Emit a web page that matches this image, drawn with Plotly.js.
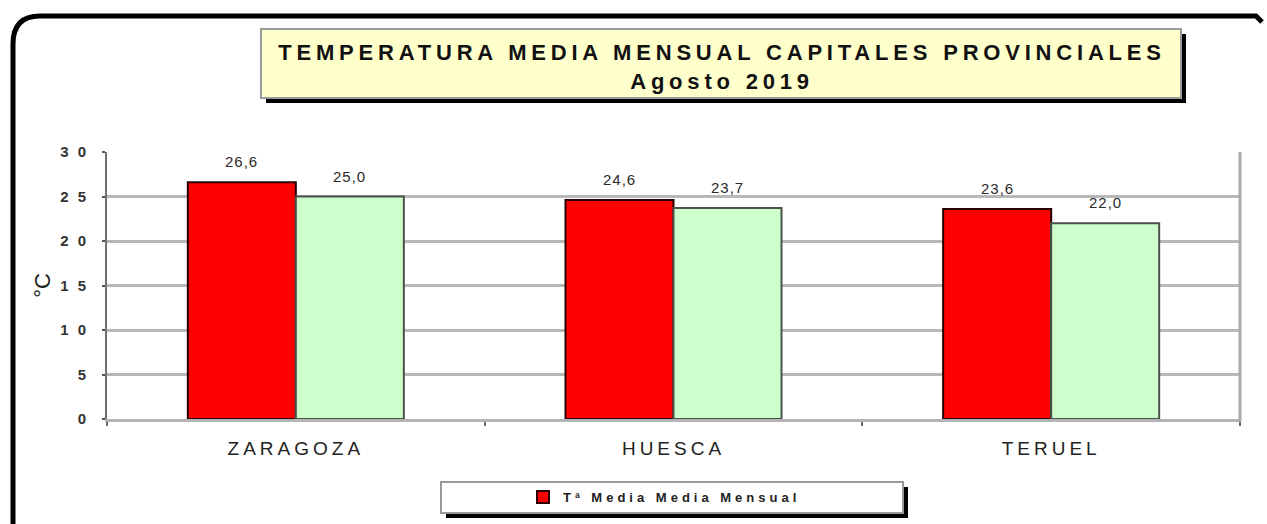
<!DOCTYPE html>
<html>
<head>
<meta charset="utf-8">
<script src="https://cdn.plot.ly/plotly-3.0.1.min.js"></script>
<style>
  html, body { margin: 0; padding: 0; background: #fff; }
  #chart { width: 1267px; height: 524px; }
  .gtitle { letter-spacing: 4.8px; }
  .xtick text { letter-spacing: 4px; }
  .ytick text { letter-spacing: 9px; }
  .annotation-text { letter-spacing: 1px; }
  .legendtext { letter-spacing: 4px; }
</style>
</head>
<body>
<div id="chart"></div>
<script>
// ---- data ----
const categories = ['ZARAGOZA', 'HUESCA', 'TERUEL'];
const mediaMensual = [26.6, 24.6, 23.6];   // Tª Media Media Mensual (red)
const mediaNormal = [25.0, 23.7, 22.0];    // second series (green)
const yTickVals = [0, 5, 10, 15, 20, 25, 30];
const yTickText = ['0', '5', '10', '15', '20', '25', '30'];
const chartTitle = 'TEMPERATURA MEDIA MENSUAL CAPITALES PROVINCIALES<br>Agosto 2019';
const legendName = 'Tª Media Media Mensual';
const secondName = 'Tª Media Normal';

// ---- geometry helpers (pixel -> paper) ----
const L = 107, R = 1240, T = 152, B = 419;
const fx = x => (x - L) / (R - L);
const fy = y => (B - y) / (B - T);

const FONT = 'Liberation Sans, Arial, sans-serif';
const fmt = v => v.toFixed(1).replace('.', ',');

const traces = [
  {
    type: 'bar', name: legendName, x: categories, y: mediaMensual,
    marker: { color: '#FF0000', line: { color: '#2a0000', width: 2 } },
    showlegend: true, hoverinfo: 'x+y'
  },
  {
    type: 'bar', name: secondName, x: categories, y: mediaNormal,
    marker: { color: '#CCFFCC', line: { color: '#4a524a', width: 2 } },
    showlegend: false, hoverinfo: 'x+y'
  }
];

// value labels above each bar, placed through the axes from the data arrays
const BAR_HALF = 54;
const labelFont = { family: FONT, size: 15, color: '#2a2a2a' };
const annotations = [];
categories.forEach((c, i) => {
  annotations.push({ x: c, y: mediaMensual[i], xref: 'x', yref: 'y', text: fmt(mediaMensual[i]),
    showarrow: false, xshift: -BAR_HALF, yshift: 10, yanchor: 'bottom', font: labelFont });
  annotations.push({ x: c, y: mediaNormal[i], xref: 'x', yref: 'y', text: fmt(mediaNormal[i]),
    showarrow: false, xshift: BAR_HALF, yshift: 10, yanchor: 'bottom', font: labelFont });
});

const shapes = [
  // outer rounded frame
  { type: 'path', xref: 'paper', yref: 'paper', layer: 'above',
    path: `M ${fx(13)},${fy(524)} L ${fx(13)},${fy(44)} Q ${fx(13)},${fy(16)} ${fx(40)},${fy(16)} L ${fx(1256)},${fy(16)} L ${fx(1262)},${fy(22)}`,
    line: { color: '#000', width: 5 } },
  // title shadow + box
  { type: 'rect', xref: 'paper', yref: 'paper', x0: fx(266), x1: fx(1186), y0: fy(34), y1: fy(103),
    fillcolor: '#000', line: { width: 0 } },
  { type: 'rect', xref: 'paper', yref: 'paper', x0: fx(261), x1: fx(1181), y0: fy(29), y1: fy(98),
    fillcolor: '#FFFFCC', line: { color: '#9a9a9a', width: 2 } },
  // legend shadow + box
  { type: 'rect', xref: 'paper', yref: 'paper', x0: fx(446), x1: fx(908), y0: fy(487), y1: fy(518),
    fillcolor: '#000', line: { width: 0 } },
  { type: 'rect', xref: 'paper', yref: 'paper', x0: fx(441), x1: fx(903), y0: fy(482), y1: fy(513),
    fillcolor: '#fff', line: { color: '#9a9a9a', width: 2 } },
  // right border of plot area
  { type: 'line', xref: 'paper', yref: 'paper', x0: 1, x1: 1, y0: -0.01, y1: 1,
    line: { color: '#a8a8a8', width: 3 } }
];

const layout = {
  width: 1267, height: 524,
  margin: { l: L, r: 1267 - R, t: T, b: 524 - B, pad: 0 },
  paper_bgcolor: '#fff', plot_bgcolor: '#fff',
  separators: ',.',
  barmode: 'group', bargap: 0.428, bargroupgap: 0,
  font: { family: FONT, color: '#222' },
  title: {
    text: chartTitle, xref: 'container', yref: 'container',
    x: 722 / 1267, xanchor: 'center', y: 1 - 60 / 524, yanchor: 'middle',
    font: { family: FONT, size: 22, color: '#111', weight: 'bold' }
  },
  xaxis: {
    type: 'category', showline: true, linecolor: '#b4b4b4', linewidth: 3,
    ticks: 'outside', tickson: 'boundaries', ticklen: 4, tickwidth: 2, tickcolor: '#666',
    tickfont: { family: FONT, size: 19, color: '#222' }, ticklabelstandoff: 10,
    showgrid: false, zeroline: false, fixedrange: true
  },
  yaxis: {
    range: [0, 30], tickvals: yTickVals, ticktext: yTickText,
    showgrid: true, gridcolor: '#b8b8b8', gridwidth: 3, zeroline: false,
    showline: true, linecolor: '#707070', linewidth: 2,
    ticks: 'outside', ticklen: 3, tickwidth: 2, tickcolor: '#555',
    tickfont: { family: FONT, size: 15, color: '#333', weight: 'bold' }, ticklabelstandoff: 4,
    title: { text: '°C', font: { family: FONT, size: 22, color: '#222' }, standoff: 4 },
    fixedrange: true
  },
  legend: {
    orientation: 'h', x: fx(523), xanchor: 'left', y: fy(497), yanchor: 'middle',
    bgcolor: 'rgba(0,0,0,0)', borderwidth: 0,
    font: { family: FONT, size: 13, color: '#222', weight: 'bold' }
  },
  annotations: annotations,
  shapes: shapes,
  showlegend: true
};

Plotly.newPlot('chart', traces, layout, { displayModeBar: false, staticPlot: true });
</script>
</body>
</html>
